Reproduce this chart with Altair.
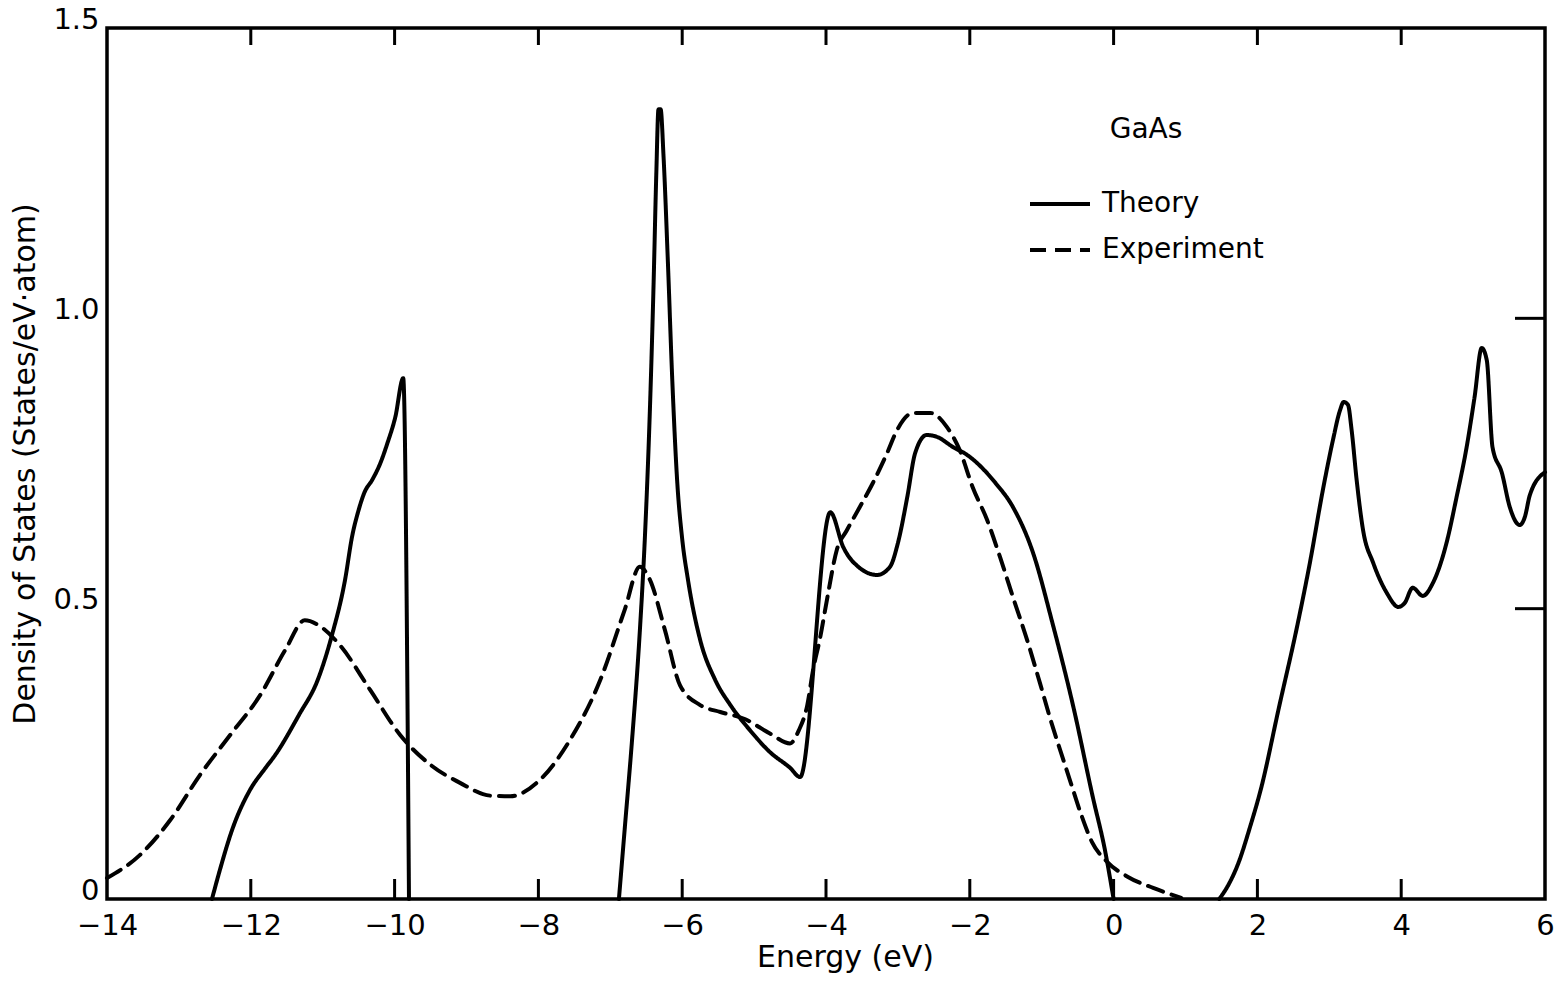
import altair as alt
import pandas as pd

# ---------------- data ----------------
# Theory, lower valence band
th1_e = [-12.54, -12.43, -12.26, -12.01, -11.80, -11.66, -11.33, -11.07, -10.87, -10.69,
         -10.59, -10.50, -10.42, -10.31, -10.20, -10.10, -9.99, -9.88, -9.80]
th1_d = [0.0, 0.05, 0.119, 0.188, 0.225, 0.248, 0.317, 0.377, 0.455, 0.549,
         0.625, 0.670, 0.700, 0.722, 0.750, 0.785, 0.830, 0.897, 0.0]

# Theory, upper valence band
th2_e = [-6.88, -6.80, -6.70, -6.59, -6.52, -6.45, -6.40, -6.36, -6.33, -6.30, -6.26, -6.20,
         -6.14, -6.07, -6.00, -5.92, -5.75, -5.54, -5.33, -5.06, -4.78, -4.50, -4.36,
         -3.94, -3.76, -3.53, -3.29, -3.11, -3.00, -2.87, -2.76, -2.60, -2.46, -2.23,
         -2.04, -1.64, -1.40, -1.12, -0.85, -0.56, -0.29, -0.12, 0.0]
th2_d = [0.0, 0.12, 0.27, 0.46, 0.62, 0.84, 1.05, 1.25, 1.36, 1.36, 1.28, 1.10,
         0.90, 0.72, 0.62, 0.55, 0.446, 0.377, 0.334, 0.291, 0.253, 0.226, 0.21,
         0.666, 0.606, 0.57, 0.558, 0.572, 0.613, 0.692, 0.768, 0.799, 0.796, 0.778,
         0.765, 0.716, 0.675, 0.596, 0.475, 0.331, 0.176, 0.084, 0.0]

# Theory, conduction band
th3_e = [1.47, 1.60, 1.73, 1.90, 2.05, 2.30, 2.55, 2.73, 2.91, 3.05, 3.15, 3.20, 3.26, 3.31,
         3.38, 3.47, 3.61, 3.80, 3.96, 4.05, 4.16, 4.30, 4.44, 4.63, 4.77, 4.91, 5.02,
         5.12, 5.19, 5.27, 5.40, 5.51, 5.65, 5.72, 5.79, 6.0]
th3_d = [0.0, 0.025, 0.06, 0.125, 0.19, 0.33, 0.468, 0.579, 0.704, 0.79, 0.842, 0.856,
         0.851, 0.808, 0.722, 0.635, 0.579, 0.527, 0.503, 0.51, 0.536, 0.522, 0.544,
         0.613, 0.692, 0.778, 0.864, 0.949, 0.928, 0.778, 0.734, 0.675, 0.644, 0.658,
         0.696, 0.735]

# Experiment
ex_e = [-14.0, -13.54, -13.12, -12.71, -12.29, -11.87, -11.52, -11.25, -11.04, -10.76,
        -10.34, -9.92, -9.5, -9.09, -8.67, -8.39, -7.98, -7.56, -7.14, -6.8, -6.59,
        -6.45, -6.24, -6.03, -5.75, -5.47, -5.13, -4.78, -4.50, -4.38, -4.26, -4.18,
        -4.08, -3.98, -3.85, -3.71, -3.53, -3.35, -3.15, -3.01, -2.79, -2.55, -2.32,
        -2.14, -1.96, -1.76, -1.58, -1.40, -1.20, -1.02, -0.88, -0.70, -0.59, -0.45,
        -0.30, -0.09, 0.20, 0.55, 0.94]
ex_d = [0.036, 0.076, 0.136, 0.213, 0.282, 0.351, 0.429, 0.48, 0.47, 0.437,
        0.36, 0.282, 0.231, 0.2, 0.178, 0.177, 0.205, 0.274, 0.377, 0.498, 0.572,
        0.55, 0.463, 0.368, 0.334, 0.322, 0.31, 0.285, 0.268, 0.29, 0.334, 0.394,
        0.451, 0.52, 0.601, 0.635, 0.675, 0.716, 0.768, 0.808, 0.837, 0.837, 0.813,
        0.773, 0.709, 0.653, 0.589, 0.52, 0.445, 0.37, 0.31, 0.24, 0.198, 0.145,
        0.098, 0.064, 0.038, 0.019, 0.002]

x_ticks = [-14, -12, -10, -8, -6, -4, -2, 0, 2, 4, 6]
inner_x_ticks = [-12, -10, -8, -6, -4, -2, 0, 2, 4]
y_ticks = [0, 0.5, 1.0, 1.5]
inner_y_ticks = [0.5, 1.0]

# ---------------- build tables ----------------
rows = []
for seg, (es, ds, series) in enumerate([(th1_e, th1_d, "Theory"),
                                        (th2_e, th2_d, "Theory"),
                                        (th3_e, th3_d, "Theory"),
                                        (ex_e, ex_d, "Experiment")]):
    for i, (e, d) in enumerate(zip(es, ds)):
        rows.append({"E": e, "D": d, "series": series, "seg": seg, "i": i})
df = pd.DataFrame(rows)

W, H = 1438, 871
FONT = "DejaVu Sans"

xscale = alt.Scale(domain=[-14, 6], nice=False, zero=False)
yscale = alt.Scale(domain=[0, 1.5], nice=False)

lines = alt.Chart(df).mark_line(color="black", strokeWidth=4, interpolate="monotone",
                                strokeCap="round", strokeJoin="round").encode(
    x=alt.X("E:Q", scale=xscale,
            axis=alt.Axis(values=x_ticks, format="d", title="Energy (eV)", ticks=False,
                          domain=False, grid=False, labelFontSize=29, labelPadding=12,
                          titleFontSize=30, titleFontWeight="normal", titlePadding=2,
                          titleX=738, labelFlush=False)),
    y=alt.Y("D:Q", scale=yscale,
            axis=alt.Axis(values=y_ticks, title="Density of States (States/eV·atom)",
                          ticks=False, domain=False, grid=False, labelFontSize=29,
                          labelPadding=8, labelOffset=-9, titleFontSize=30,
                          titleFontWeight="normal", titlePadding=12, labelFlush=False,
                          labelExpr="datum.value == 0 ? '0' : format(datum.value, '.1f')")),
    strokeDash=alt.StrokeDash("series:N",
                              scale=alt.Scale(domain=["Theory", "Experiment"],
                                              range=[[1, 0], [16, 9]]),
                              legend=alt.Legend(title="GaAs", orient="none",
                                                legendX=921, legendY=88)),
    detail="seg:N",
    order="i:Q",
)

bt = pd.DataFrame({"E": inner_x_ticks})
bottom_ticks = alt.Chart(bt).mark_rule(color="black", strokeWidth=3).encode(
    x=alt.X("E:Q", scale=xscale), y=alt.value(H), y2=alt.value(H - 20))
top_ticks = alt.Chart(bt).mark_rule(color="black", strokeWidth=3).encode(
    x=alt.X("E:Q", scale=xscale), y=alt.value(0), y2=alt.value(17))
rt = pd.DataFrame({"D": inner_y_ticks})
right_ticks = alt.Chart(rt).mark_rule(color="black", strokeWidth=3).encode(
    y=alt.Y("D:Q", scale=yscale), x=alt.value(W), x2=alt.value(W - 30))

chart = alt.layer(lines, bottom_ticks, top_ticks, right_ticks).properties(
    width=W, height=H,
    autosize=alt.AutoSizeParams(type="none"),
    padding={"left": 107, "top": 28, "right": 15, "bottom": 94},
    background="white",
).configure_view(
    stroke="black", strokeWidth=3.5
).configure_axis(
    labelFont=FONT, titleFont=FONT, labelColor="black", titleColor="black"
).configure_legend(
    titleFont=FONT, labelFont=FONT, titleFontSize=28, labelFontSize=28,
    titleFontWeight="normal", titleColor="black", labelColor="black",
    titleAnchor="middle", titlePadding=28, labelLimit=400,
    symbolType="stroke", symbolSize=3600, symbolStrokeWidth=4,
    symbolStrokeColor="black", labelOffset=10, rowPadding=0,
)

chart.save("out.html", embed_options={"renderer": "svg", "actions": False})
